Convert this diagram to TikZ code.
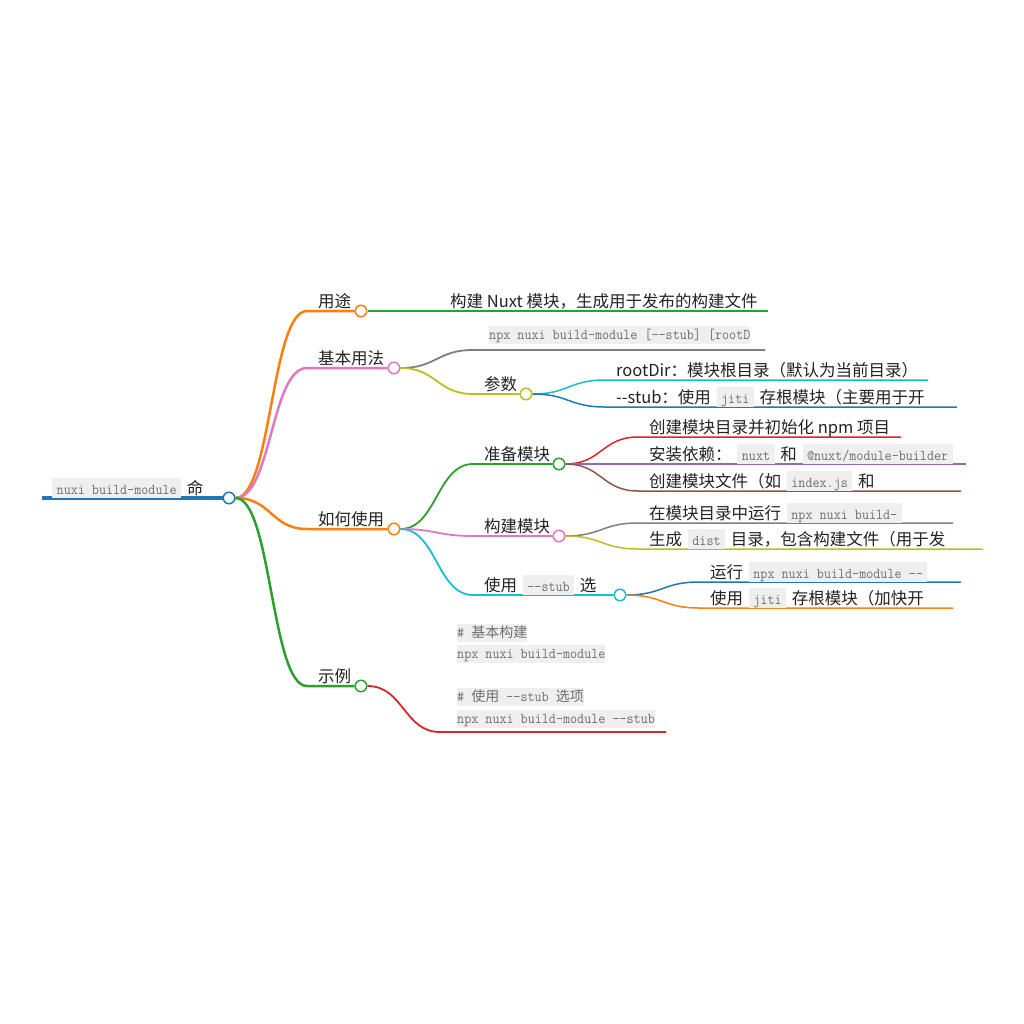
\documentclass[tikz,border=0pt]{standalone}
\usepackage{fontspec}
\setmainfont{Noto Sans CJK SC}
\newfontfamily\cjk{Noto Sans CJK SC}
\newfontfamily\codefont[FakeStretch=0.92]{Latin Modern Mono}
\usetikzlibrary{backgrounds}
\definecolor{cBlue}{HTML}{1F77B4}
\definecolor{cOrange}{HTML}{FF7F0E}
\definecolor{cGreen}{HTML}{2CA02C}
\definecolor{cRed}{HTML}{D62728}
\definecolor{cPurple}{HTML}{9467BD}
\definecolor{cBrown}{HTML}{8C564B}
\definecolor{cPink}{HTML}{E377C2}
\definecolor{cGray}{HTML}{7F7F7F}
\definecolor{cOlive}{HTML}{BCBD22}
\definecolor{cCyan}{HTML}{17BECF}
\definecolor{txt}{HTML}{222222}
\definecolor{codebg}{HTML}{EFEFEF}
\definecolor{codefg}{HTML}{6E6E6E}
\newcommand\mono{\codefont\fontsize{14.9pt}{16pt}\selectfont}
\newcommand\cjkc{\cjk\fontsize{14pt}{16pt}\selectfont}
\newcommand\lblfont{\fontsize{16.5pt}{20pt}\selectfont}
\newcommand\cd[1]{\hspace{2pt}{\setlength{\fboxsep}{0pt}\colorbox{codebg}{\hspace{4.5pt}\rule[-3.5pt]{0pt}{20pt}{\mono\color{codefg}#1}\hspace{4.5pt}}}\hspace{2pt}}
\newcommand\cdl[1]{{\setlength{\fboxsep}{0pt}\colorbox{codebg}{\rule[-4.5pt]{0pt}{18pt}{\mono\color{codefg}#1}}}}
\begin{document}
\begin{tikzpicture}[x=1pt,y=-1pt,
  dot/.style={circle,draw=#1,fill=white,line width=1.5pt,minimum size=11.5pt,inner sep=0pt},
  lbl/.style={anchor=base west,inner sep=0pt,font=\lblfont,text=txt},
  code/.style={anchor=base west,inner sep=0pt},
  w0/.style={line width=4pt},
  w1/.style={line width=2.5pt},
  w2/.style={line width=1.8pt},
  w3/.style={line width=1.5pt},
  lk/.style={to path={.. controls +(36,0) and +(-36,0) .. (\tikztotarget)}}]
\useasboundingbox (0,0) rectangle (1024,1024);
% root
\coordinate (s0) at (42,498);
\node[dot=cBlue] (c0) at (229,498) {};
\node[lbl] (t0) at (50,494) {\cd{nuxi build-module} 命};
% depth 1
\coordinate (s1) at (307,311); \node[dot=cOrange] (c1) at (361,311) {};
\node[lbl] (t1) at (318,307.5) {用途};
\coordinate (s2) at (307,368); \node[dot=cPink] (c2) at (394,368) {};
\node[lbl] (t2) at (318,364.5) {基本用法};
\coordinate (s3) at (307,529); \node[dot=cOrange] (c3) at (394,529) {};
\node[lbl] (t3) at (318,525.5) {如何使用};
\coordinate (s4) at (307,686); \node[dot=cGreen] (c4) at (361,686) {};
\node[lbl] (t4) at (318,682.5) {示例};
% 用途 child
\coordinate (s11) at (440,311); \coordinate (e11) at (768,311);
\node[lbl] (t11) at (450,307.5) {构建 Nuxt 模块，生成用于发布的构建文件};
% 基本用法 children
\coordinate (s21) at (473,350); \coordinate (e21) at (765,350);
\node[code] (t21) at (489,339.5) {\cdl{npx nuxi build-module [-{}-stub] [rootD}};
\coordinate (s22) at (473,394); \node[dot=cOlive] (c22) at (526,394) {};
\node[lbl] (t22) at (484,390.5) {参数};
\coordinate (s221) at (605,380); \coordinate (e221) at (928,380);
\node[lbl] (t221) at (616,376.5) {rootDir：模块根目录（默认为当前目录）};
\coordinate (s222) at (605,407); \coordinate (e222) at (957,407);
\node[lbl] (t222) at (616,403.5) {-{}-stub：使用 \cd{jiti} 存根模块（主要用于开};
% 如何使用 children
\coordinate (s31) at (473,464); \node[dot=cGreen] (c31) at (559,464) {};
\node[lbl] (t31) at (484,460.5) {准备模块};
\coordinate (s32) at (473,536); \node[dot=cPink] (c32) at (559,536) {};
\node[lbl] (t32) at (484,532.5) {构建模块};
\coordinate (s33) at (473,595); \node[dot=cCyan] (c33) at (620,595) {};
\node[lbl] (t33) at (484,591.5) {使用 \cd{-{}-stub} 选};
% 准备模块 children
\coordinate (s311) at (638,437); \coordinate (e311) at (901,437);
\node[lbl] (t311) at (649,433.5) {创建模块目录并初始化 npm 项目};
\coordinate (s312) at (638,464); \coordinate (e312) at (966,464);
\node[lbl] (t312) at (649,460.5) {安装依赖： \cd{nuxt} 和 \cd{@nuxt/module-builder}};
\coordinate (s313) at (638,491); \coordinate (e313) at (961,491);
\node[lbl] (t313) at (649,487.5) {创建模块文件（如 \cd{index.js} 和};
% 构建模块 children
\coordinate (s321) at (638,523); \coordinate (e321) at (953,523);
\node[lbl] (t321) at (649,519.5) {在模块目录中运行 \cd{npx nuxi build-}};
\coordinate (s322) at (638,549); \coordinate (e322) at (983,549);
\node[lbl] (t322) at (649,545.5) {生成 \cd{dist} 目录，包含构建文件（用于发};
% 使用 --stub children
\coordinate (s331) at (699,582); \coordinate (e331) at (961,582);
\node[lbl] (t331) at (710,578.5) {运行 \cd{npx nuxi build-module -{}-}};
\coordinate (s332) at (699,608); \coordinate (e332) at (953,608);
\node[lbl] (t332) at (710,604.5) {使用 \cd{jiti} 存根模块（加快开};
% 示例 child
\coordinate (s41) at (440,732); \coordinate (e41) at (666,732);
\node[code] (t41a) at (457,637) {\cdl{\# {\cjkc 基本构建}}};
\node[code] (t41b) at (457,658.5) {\cdl{npx nuxi build-module}};
\node[code] (t41c) at (457,701.5) {\cdl{\# {\cjkc 使用} -{}-stub {\cjkc 选项}}};
\begin{scope}
\clip (450,705) rectangle (657,730);
\node[code] (t41d) at (457,723.5) {\cdl{npx nuxi build-module -{}-stub}};
\end{scope}
% connectors
\begin{scope}[on background layer]
\draw[cBlue,w0] (s0) -- (c0.west);
\draw[cOrange,w1] (c0.east) to[lk] (s1) -- (c1.west);
\draw[cPink,w1] (c0.east) to[lk] (s2) -- (c2.west);
\draw[cOrange,w1] (c0.east) to[lk] (s3) -- (c3.west);
\draw[cGreen,w1] (c0.east) to[lk] (s4) -- (c4.west);
\draw[cGreen,w2] (c1.east) to[lk] (s11) -- (e11);
\draw[cGray,w2] (c2.east) to[lk] (s21) -- (e21);
\draw[cOlive,w2] (c2.east) to[lk] (s22) -- (c22.west);
\draw[cCyan,w3] (c22.east) to[lk] (s221) -- (e221);
\draw[cBlue,w3] (c22.east) to[lk] (s222) -- (e222);
\draw[cGreen,w2] (c3.east) to[lk] (s31) -- (c31.west);
\draw[cPink,w2] (c3.east) to[lk] (s32) -- (c32.west);
\draw[cCyan,w2] (c3.east) to[lk] (s33) -- (c33.west);
\draw[cRed,w3] (c31.east) to[lk] (s311) -- (e311);
\draw[cPurple,w3] (c31.east) to[lk] (s312) -- (e312);
\draw[cBrown,w3] (c31.east) to[lk] (s313) -- (e313);
\draw[cGray,w3] (c32.east) to[lk] (s321) -- (e321);
\draw[cOlive,w3] (c32.east) to[lk] (s322) -- (e322);
\draw[cBlue,w3] (c33.east) to[lk] (s331) -- (e331);
\draw[cOrange,w3] (c33.east) to[lk] (s332) -- (e332);
\draw[cRed,w2] (c4.east) to[lk] (s41) -- (e41);
\end{scope}
\end{tikzpicture}
\end{document}
